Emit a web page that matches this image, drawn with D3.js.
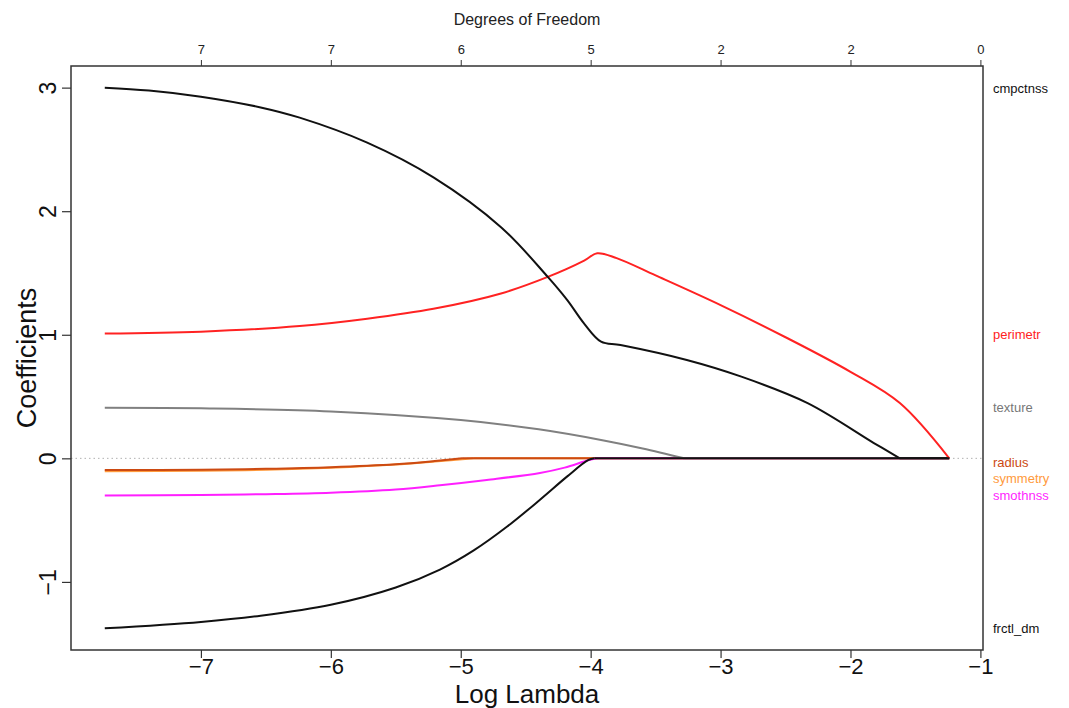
<!DOCTYPE html>
<html>
<head>
<meta charset="utf-8">
<script src="https://cdn.jsdelivr.net/npm/d3@7/dist/d3.min.js"></script>
<style>
  html, body { margin: 0; padding: 0; background: #fff; }
  svg { display: block; font-family: "Liberation Sans", Arial, sans-serif; }
</style>
</head>
<body>
<svg id="chart" width="1069" height="708"></svg>
<script>
// ---- data ----
// Each coefficient path: log(lambda) positions and coefficient values, ending where the path reaches 0.
const symmetryX = [-7.74, -7.0, -6.5, -6.0, -5.5, -5.2, -4.9];
const symmetryY = [-0.105, -0.10, -0.092, -0.076, -0.05, -0.025, 0];

const radiusX = [-7.74, -7.0, -6.5, -6.0, -5.5, -5.2, -4.99];
const radiusY = [-0.095, -0.092, -0.085, -0.072, -0.048, -0.022, 0];

const smothnssX = [-7.74, -7.0, -6.5, -6.0, -5.5, -5.16, -4.8, -4.39, -4.2, -4.02, -3.95];
const smothnssY = [-0.30, -0.297, -0.29, -0.278, -0.252, -0.218, -0.175, -0.118, -0.075, -0.016, 0];

const textureX = [-7.74, -7.0, -6.0, -5.0, -4.4, -3.9, -3.6, -3.28];
const textureY = [0.41, 0.405, 0.38, 0.31, 0.235, 0.145, 0.08, 0];

const frctl_dmX = [-7.74, -7.0, -6.54, -6.0, -5.5, -5.16, -4.9, -4.64, -4.39, -4.18, -4.02, -3.97];
const frctl_dmY = [-1.376, -1.324, -1.274, -1.185, -1.045, -0.90, -0.745, -0.55, -0.335, -0.146, -0.015, 0];

const perimetrX = [-7.74, -7.0, -6.24, -5.72, -5.21, -4.69, -4.33, -4.05, -3.95, -3.8, -3.5, -3.0, -2.5, -2.0, -1.62, -1.24];
const perimetrY = [1.01, 1.025, 1.07, 1.13, 1.21, 1.334, 1.468, 1.60, 1.66, 1.62, 1.48, 1.24, 0.98, 0.70, 0.447, 0];

const cmpctnssX = [-7.74, -7.4, -7.0, -6.54, -6.24, -5.72, -5.21, -4.69, -4.33, -4.18, -4.05, -3.92, -3.77, -3.26, -2.84, -2.33, -1.82, -1.62];
const cmpctnssY = [3.0, 2.977, 2.927, 2.84, 2.757, 2.555, 2.274, 1.871, 1.468, 1.28, 1.09, 0.944, 0.917, 0.796, 0.661, 0.447, 0.124, 0];

const seriesNames  = ["symmetry", "radius", "smothnss", "texture", "frctl_dm", "perimetr", "cmpctnss"];
const seriesX = [symmetryX, radiusX, smothnssX, textureX, frctl_dmX, perimetrX, cmpctnssX];
const seriesY = [symmetryY, radiusY, smothnssY, textureY, frctl_dmY, perimetrY, cmpctnssY];
const seriesColors = ["#ff9a3c", "#cc4a12", "#ff1fff", "#808080", "#111111", "#ff2222", "#111111"];

// right-hand labels (top to bottom) and their vertical positions in coefficient units
const labelNames  = ["cmpctnss", "perimetr", "texture", "radius", "symmetry", "smothnss", "frctl_dm"];
const labelValues = [2.99, 1.0, 0.41, -0.035, -0.165, -0.30, -1.38];
const labelColors = ["#111111", "#ff2222", "#777777", "#cc4a12", "#ff9a3c", "#ff1fff", "#111111"];

// axes
const xTicks = [-7, -6, -5, -4, -3, -2, -1];
const yTicks = [-1, 0, 1, 2, 3];
const dfLabels = ["7", "7", "6", "5", "2", "2", "0"];

// ---- layout ----
const svg = d3.select("#chart");
const mLeft = 71, mRight = 983, mTop = 66, mBottom = 650;

const xExt = d3.extent(seriesX.flat());
const xPad = (xExt[1] - xExt[0]) * 0.04;
const yExt = d3.extent(seriesY.flat());
const yPad = (yExt[1] - yExt[0]) * 0.04;

const x = d3.scaleLinear().domain([xExt[0] - xPad, xExt[1] + xPad]).range([mLeft, mRight]);
const y = d3.scaleLinear().domain([yExt[0] - yPad, yExt[1] + yPad]).range([mBottom, mTop]);

// zero reference line (dotted)
svg.append("line")
  .attr("x1", mLeft).attr("x2", mRight)
  .attr("y1", y(0)).attr("y2", y(0))
  .attr("stroke", "#b0b0b0").attr("stroke-width", 1)
  .attr("stroke-dasharray", "1.5,3");

// coefficient paths
const curve = d3.line()
  .x(d => x(d[0]))
  .y(d => y(d[1]))
  .curve(d3.curveCatmullRom.alpha(0.5));
const straight = d3.line()
  .x(d => x(d[0]))
  .y(d => y(d[1]));

const gLines = svg.append("g");
seriesNames.forEach((name, i) => {
  const pts = seriesX[i].map((xv, j) => [xv, seriesY[i][j]]);
  const last = pts[pts.length - 1];
  // zero tail, to the largest lambda
  if (last[0] < xExt[1]) {
    gLines.append("path")
      .attr("d", straight([last, [xExt[1], 0]]))
      .attr("fill", "none")
      .attr("stroke", seriesColors[i])
      .attr("stroke-width", 2);
  }
  gLines.append("path")
    .attr("d", curve(pts))
    .attr("fill", "none")
    .attr("stroke", seriesColors[i])
    .attr("stroke-width", 2)
    .attr("stroke-linejoin", "round");
});

// box
svg.append("rect")
  .attr("x", mLeft).attr("y", mTop)
  .attr("width", mRight - mLeft).attr("height", mBottom - mTop)
  .attr("fill", "none").attr("stroke", "#333").attr("stroke-width", 1.5);

// bottom axis
const fmt = d => d < 0 ? "\u2212" + Math.abs(d) : String(d);
const gx = svg.append("g").attr("transform", `translate(0,${mBottom})`)
  .call(d3.axisBottom(x).tickValues(xTicks).tickFormat(fmt).tickSize(8).tickPadding(0));
gx.select(".domain").remove();
gx.selectAll(".tick line").attr("stroke", "#333").attr("stroke-width", 1.2);
gx.selectAll(".tick text").attr("font-size", 22).attr("fill", "#111")
  .attr("font-family", "Liberation Sans, Arial, sans-serif");

// left axis
const gy = svg.append("g").attr("transform", `translate(${mLeft},0)`)
  .call(d3.axisLeft(y).tickValues(yTicks).tickFormat(fmt).tickSize(9));
gy.select(".domain").remove();
gy.selectAll(".tick line").attr("stroke", "#333").attr("stroke-width", 1.2);
gy.selectAll(".tick text").remove();
gy.selectAll(".tick").append("text")
  .attr("transform", "translate(-23,0) rotate(-90)")
  .attr("text-anchor", "middle")
  .attr("dy", "0.35em")
  .attr("font-size", 23)
  .attr("fill", "#111")
  .attr("font-family", "Liberation Sans, Arial, sans-serif")
  .text(d => fmt(d));

// top axis: degrees of freedom
const gt = svg.append("g").attr("transform", `translate(0,${mTop})`)
  .call(d3.axisTop(x).tickValues(xTicks).tickFormat((d, i) => dfLabels[i]).tickSize(6).tickPadding(6));
gt.select(".domain").remove();
gt.selectAll(".tick line").attr("stroke", "#333");
gt.selectAll(".tick text").attr("font-size", 13).attr("fill", "#222")
  .attr("font-family", "Liberation Sans, Arial, sans-serif");

// titles
svg.append("text")
  .attr("x", (mLeft + mRight) / 2).attr("y", 25)
  .attr("text-anchor", "middle").attr("font-size", 16).attr("fill", "#222")
  .text("Degrees of Freedom");

svg.append("text")
  .attr("x", (mLeft + mRight) / 2).attr("y", 703)
  .attr("text-anchor", "middle").attr("font-size", 26).attr("fill", "#111")
  .text("Log Lambda");

svg.append("text")
  .attr("transform", `translate(36,${(mTop + mBottom) / 2}) rotate(-90)`)
  .attr("text-anchor", "middle").attr("font-size", 27).attr("fill", "#111")
  .text("Coefficients");

// right labels
svg.append("g").selectAll("text")
  .data(labelNames)
  .join("text")
  .attr("x", mRight + 10)
  .attr("y", (d, i) => y(labelValues[i]))
  .attr("dy", "0.35em")
  .attr("font-size", 13)
  .attr("fill", (d, i) => labelColors[i])
  .text(d => d);
</script>
</body>
</html>
